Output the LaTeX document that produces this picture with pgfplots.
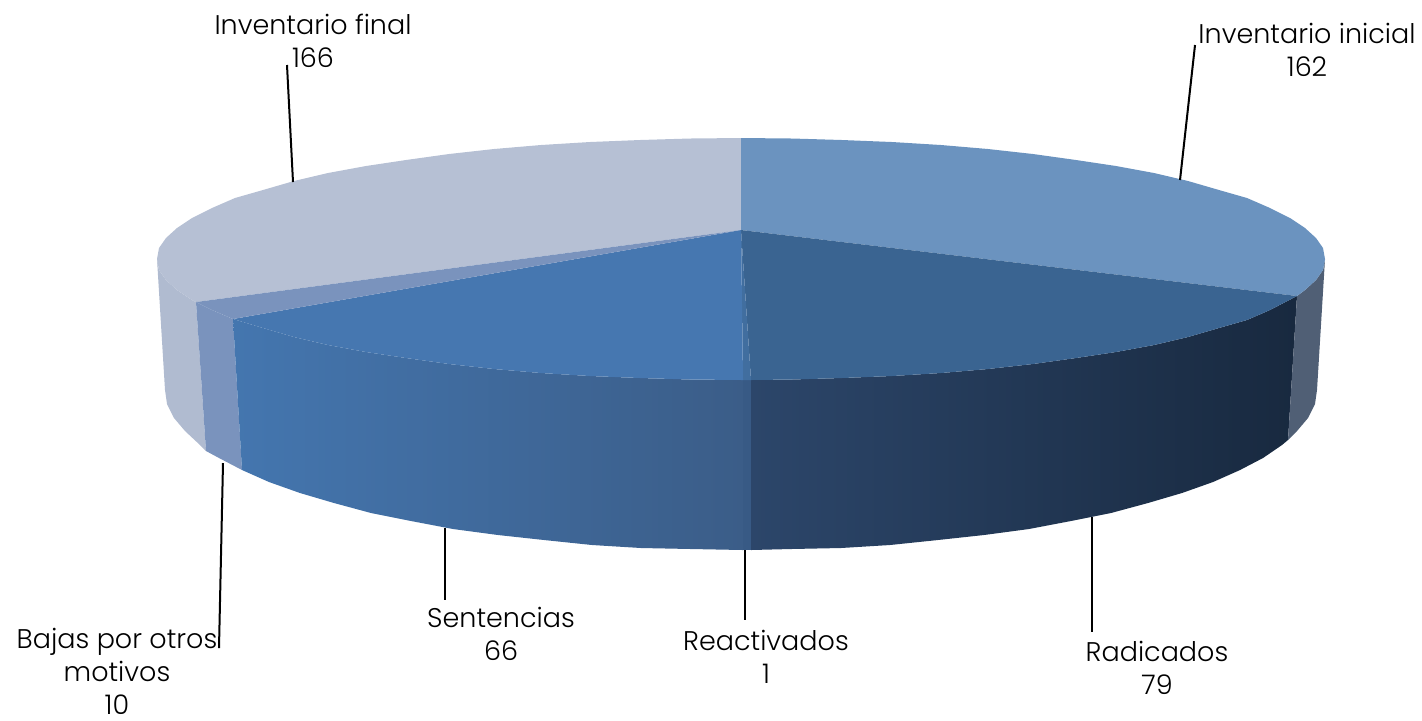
\documentclass[border=0pt]{standalone}
\usepackage{fontspec}
\setmainfont[UprightFont=* Light]{Poppins}
\usepackage{pgfplots}
\pgfplotsset{compat=1.18}
\definecolor{inicialtop}{HTML}{6B93BF}
\definecolor{inicialside}{HTML}{505F75}
\definecolor{radtop}{HTML}{3A6491}
\definecolor{radl}{HTML}{2C466A}
\definecolor{radr}{HTML}{18293F}
\definecolor{reac}{HTML}{416E9F}
\definecolor{reacside}{HTML}{385A85}
\definecolor{sentop}{HTML}{4677B0}
\definecolor{senl}{HTML}{4476AF}
\definecolor{senr}{HTML}{3B5D88}
\definecolor{bajas}{HTML}{7A93BD}
\definecolor{finaltop}{HTML}{B6C0D4}
\definecolor{finalside}{HTML}{B0BBD0}
\begin{document}
\begin{tikzpicture}
\path[use as bounding box] (0,0) rectangle (711pt,360pt);
\begin{axis}[
	scale only axis, width=711pt, height=360pt,
	xmin=0, xmax=1422, ymin=0, ymax=720,
	y dir=reverse,
	hide axis,
	clip=false,
	nodes={font=\fontsize{13.5}{16.5}\selectfont, align=center, text=black},
]
% side walls, positions in pixels of the picture
\addplot[draw=none, fill=finalside] coordinates {(157,259) (159,270) (166,280) (177,290) (192,300) (196,302) (206,451) (200,445) (185,431) (174,418) (167,404) (165,390)} -- cycle;
\addplot[draw=none, fill=bajas] coordinates {(196,302) (212,310) (233,319) (242,470) (219,458) (206,451)} -- cycle;
\addplot[draw=none, left color=senl, right color=senr] coordinates {(233,319) (263,328) (294,337) (328,345) (366,352) (406,358) (449,364) (494,369) (541,373) (590,376) (640,378) (690,379.5) (743,380) (743,550) (691,549) (641,548) (592,545) (544,540) (498,535) (453,529) (411,521) (371,513) (334,503) (300,493) (269,482) (242,470)} -- cycle;
\addplot[draw=none, fill=reacside] coordinates {(743,380) (751,380) (751,550) (743,550)} -- cycle;
\addplot[draw=none, left color=radl, right color=radr] coordinates {(751,380) (792,379.5) (842,378) (892,376) (941,373) (988,369) (1033,364) (1076,358) (1116,352) (1154,345) (1188,337) (1219,328) (1247,320) (1270,310) (1297,296) (1288,440) (1282,445) (1263,458) (1240,470) (1213,482) (1182,493) (1148,503) (1111,513) (1071,521) (1029,529) (984,535) (938,540) (890,545) (841,548) (791,549) (751,550)} -- cycle;
\addplot[draw=none, fill=inicialside] coordinates {(1297,296) (1305,290) (1316,280) (1323,270) (1325,259) (1317,390) (1315,404) (1308,418) (1297,431) (1288,440)} -- cycle;
% top of the pie
\addplot[draw=none, fill=finaltop] coordinates {(741,230) (196,302) (192,300) (177,290) (166,280) (159,270) (157,259) (159,248) (166,238) (177,228) (192,218) (212,208) (235,198) (263,190) (294,181) (328,173) (366,166) (406,160) (449,154) (494,149) (541,145) (590,142) (640,140) (690,138.5) (741,138)} -- cycle;
\addplot[draw=none, fill=inicialtop] coordinates {(741,230) (741,138) (792,138.5) (842,140) (892,142) (941,145) (988,149) (1033,154) (1076,160) (1116,166) (1154,173) (1188,181) (1219,190) (1247,198) (1270,208) (1290,218) (1305,228) (1316,238) (1323,248) (1325,259) (1323,270) (1316,280) (1305,290) (1297,296)} -- cycle;
\addplot[draw=none, fill=radtop] coordinates {(741,230) (1297,296) (1270,310) (1247,320) (1219,328) (1188,337) (1154,345) (1116,352) (1076,358) (1033,364) (988,369) (941,373) (892,376) (842,378) (792,379.5) (751,380)} -- cycle;
\addplot[draw=none, fill=reac] coordinates {(741,230) (751,380) (743,380)} -- cycle;
\addplot[draw=none, fill=sentop] coordinates {(741,230) (743,380) (690,379.5) (640,378) (590,376) (541,373) (494,369) (449,364) (406,358) (366,352) (328,345) (294,337) (263,328) (233,319)} -- cycle;
\addplot[draw=none, fill=bajas] coordinates {(741,230) (233,319) (212,310) (196,302)} -- cycle;
% leader lines
\addplot[black, line width=1pt] coordinates {(287,65) (293,182)};
\addplot[black, line width=1pt] coordinates {(1195,45) (1180,180)};
\addplot[black, line width=1pt] coordinates {(1092,517) (1092,632)};
\addplot[black, line width=1pt] coordinates {(745,550) (745,620)};
\addplot[black, line width=1pt] coordinates {(445,528) (445,600)};
\addplot[black, line width=1pt] coordinates {(223,463) (219,648)};
% labels
\node at (axis cs:313,41) {Inventario final\\166};
\node at (axis cs:1307,50) {Inventario inicial\\162};
\node at (axis cs:1157,668) {Radicados\\79};
\node at (axis cs:766,657) {Reactivados\\1};
\node at (axis cs:501,634) {Sentencias\\66};
\node at (axis cs:117,671) {Bajas por otros\\motivos\\10};
\end{axis}
\end{tikzpicture}
\end{document}
